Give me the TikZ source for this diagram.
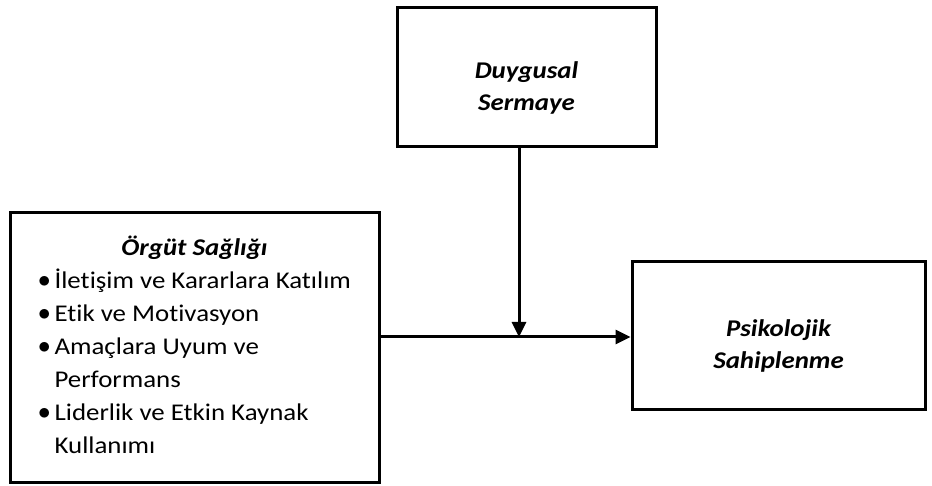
\documentclass[tikz,border=0pt]{standalone}
\usepackage{fontspec}
\setmainfont{Carlito}[FakeStretch=1.12, Ligatures=NoCommon]
\usetikzlibrary{arrows.meta,positioning}

\newcommand{\bul}{\raisebox{1pt}{$\bullet$}}

\begin{document}
\begin{tikzpicture}[x=1pt,y=1pt,
    box/.style={draw, line width=3pt, inner sep=0pt, align=center,
      font=\fontsize{24}{33}\selectfont},
    ttl/.style={font=\fontsize{24}{32}\selectfont\bfseries\itshape,
      text height=66pt, text depth=0pt},
    link/.style={line width=3pt, -{Triangle[length=15pt,width=14pt]}}]
  \useasboundingbox (0,0) rectangle (932,486);

  % boxes
  \node[box, minimum width=369pt, minimum height=270pt] (org) at (194.5,138)
  {\begin{tabular}{@{}l@{\hspace{4pt}}l@{}}
      \multicolumn{2}{c}{\rule{0pt}{20pt}\bfseries\itshape Örgüt Sağlığı} \\
      \bul & İletişim ve Kararlara Katılım \\
      \bul & Etik ve Motivasyon \\
      \bul & Amaçlara Uyum ve \\
           & Performans \\
      \bul & Liderlik ve Etkin Kaynak \\
           & Kullanımı
    \end{tabular}};
  \node[box, ttl, minimum width=259pt, minimum height=139pt] (duy) at (526.5,408.5)
  {Duygusal\\Sermaye};
  \node[box, ttl, minimum width=293pt, minimum height=148pt] (psi) at (778.5,150)
  {Psikolojik\\Sahiplenme};

  % connectors
  \coordinate (mod) at (519,149);
  \draw[link] (org.east |- mod) -- (psi.west |- mod);
  \draw[link] (duy.south -| mod) -- (mod);
\end{tikzpicture}
\end{document}
